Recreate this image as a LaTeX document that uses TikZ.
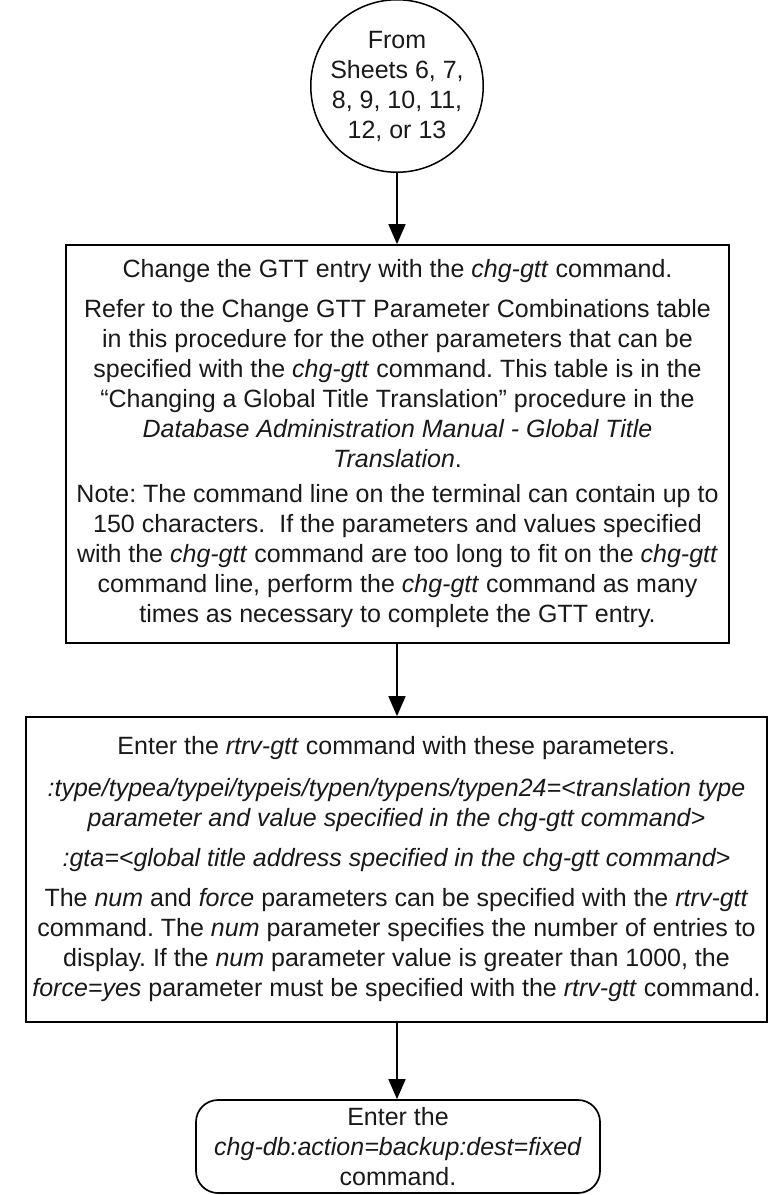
\documentclass[tikz,border=0pt]{standalone}
\usepackage{fontspec}
\setmainfont{Liberation Sans}
\usetikzlibrary{arrows.meta}
\frenchspacing
\begin{document}
\begin{tikzpicture}[x=1pt,y=-1pt,
  every node/.style={font=\fontsize{25}{30}\selectfont\frenchspacing, align=center, inner sep=0pt, text=black!90},
  stepbox/.style={draw, rectangle, line width=1.7pt},
  termbox/.style={draw, rectangle, rounded corners=22pt, line width=1.7pt},
  conn/.style={draw, circle, line width=1.5pt},
  arr/.style={line width=1.7pt, -{Triangle[length=20pt,width=17pt]}}]
\useasboundingbox (0,0) rectangle (768,1195);

\node[conn, minimum size=158pt] (c) at (397,86)
  {From\\Sheets 6, 7,\\8, 9, 10, 11,\\12, or 13};

\node[stepbox, minimum width=663pt, minimum height=398pt] (b1) at (397.5,444)
  {Change the GTT entry with the \textit{chg-gtt} command.\\[10pt]
   Refer to the Change GTT Parameter Combinations table\\
   in this procedure for the other parameters that can be\\
   specified with the \textit{chg-gtt} command. This table is in the\\
   “Changing a Global Title Translation” procedure in the\\
   \textit{Database Administration Manual - Global Title}\\
   \textit{Translation}.\\[5pt]
   Note: The command line on the terminal can contain up to\\
   150 characters.~ If the parameters and values specified\\
   with the \textit{chg-gtt} command are too long to fit on the \textit{chg-gtt}\\
   command line, perform the \textit{chg-gtt} command as many\\
   times as necessary to complete the GTT entry.};

\node[stepbox, minimum width=741pt, minimum height=305pt] (b2) at (396.5,869.5)
  {Enter the \textit{rtrv-gtt} command with these parameters.\\[12pt]
   \textit{:type/typea/typei/typeis/typen/typens/typen24=<translation type}\\
   \textit{parameter and value specified in the chg-gtt command>}\\[10pt]
   \textit{:gta=<global title address specified in the chg-gtt command>}\\[10pt]
   The \textit{num} and \textit{force} parameters can be specified with the \textit{rtrv-gtt}\\
   command. The \textit{num} parameter specifies the number of entries to\\
   display. If the \textit{num} parameter value is greater than 1000, the\\
   \textit{force=yes} parameter must be specified with the \textit{rtrv-gtt} command.};

\node[termbox, minimum width=404pt, minimum height=93pt] (b3) at (398,1146.5)
  {Enter the\\\textit{chg-db:action=backup:dest=fixed}\\command.};

\draw[arr] (c.south) -- (c.south |- b1.north);
\draw[arr] (b1.south -| c.south) -- (c.south |- b2.north);
\draw[arr] (b2.south -| c.south) -- (c.south |- b3.north);
\end{tikzpicture}
\end{document}
